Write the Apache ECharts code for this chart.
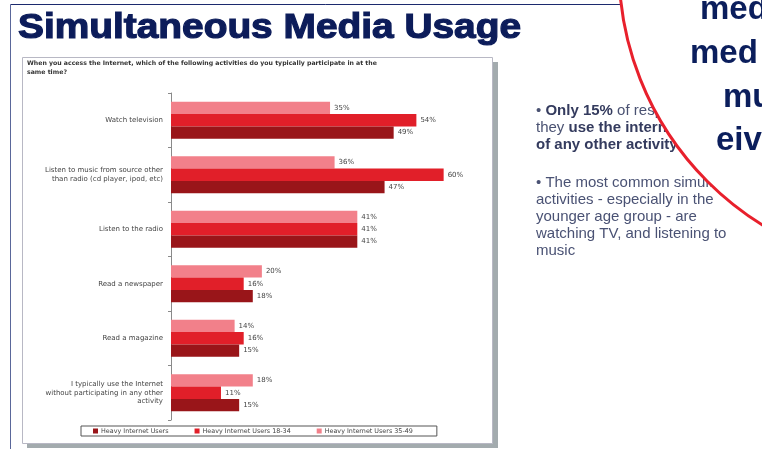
<!DOCTYPE html>
<html>
<head>
<meta charset="utf-8">
<script src="https://cdn.jsdelivr.net/npm/echarts@6/dist/echarts.min.js"></script>
<style>
html,body{margin:0;padding:0;background:#fff;}
#c{width:762px;height:449px;}
</style>
</head>
<body>
<div id="c"></div>
<script>
const categories = [
  'Watch television',
  'Listen to music from source other\nthan radio (cd player, ipod, etc)',
  'Listen to the radio',
  'Read a newspaper',
  'Read a magazine',
  'I typically use the Internet\nwithout participating in any other\nactivity'
];
const seriesNames = ['Heavy Internet Users', 'Heavy Internet Users 18-34', 'Heavy Internet Users 35-49'];
const heavyAll = [49, 47, 41, 18, 15, 15];
const heavy1834 = [54, 60, 41, 16, 16, 11];
const heavy3549 = [35, 36, 41, 20, 14, 18];

const chart = echarts.init(document.getElementById('c'), null, {renderer: 'canvas'});
const ARIAL = '"Liberation Sans", Arial, sans-serif';
const SMALL = '"DejaVu Sans", Verdana, sans-serif';
const lbl = {show: true, position: 'right', distance: 4, formatter: '{c}%', fontSize: 7, color: '#444', fontFamily: SMALL};

const option = {
  backgroundColor: '#ffffff',
  animation: false,
  textStyle: {fontFamily: SMALL},
  grid: {left: 171, top: 93, width: 309, height: 327, containLabel: false},
  xAxis: {type: 'value', min: 0, max: 68, show: false},
  yAxis: {
    type: 'category', data: categories, inverse: true,
    axisLine: {show: true, lineStyle: {color: '#8a8a8a', width: 1}},
    axisTick: {show: true, length: 3, lineStyle: {color: '#8a8a8a'}},
    axisLabel: {fontSize: 7, color: '#444', lineHeight: 8.8, margin: 8, fontFamily: SMALL, align: 'right'}
  },
  legend: {
    data: [seriesNames[0], seriesNames[1], seriesNames[2]],
    left: 81, top: 426, itemWidth: 5, itemHeight: 5, itemGap: 26,
    borderColor: '#555', borderWidth: 1, padding: [2, 24, 2, 12],
    textStyle: {fontSize: 6.4, color: '#444', fontFamily: SMALL, padding: [0, 0, 0, -2]},
    icon: 'rect'
  },
  series: [
    {name: seriesNames[2], type: 'bar', data: heavy3549, barWidth: 12.3, barGap: '0%', itemStyle: {color: '#f2808a'}, label: lbl},
    {name: seriesNames[1], type: 'bar', data: heavy1834, barWidth: 12.3, barGap: '0%', itemStyle: {color: '#e11f29'}, label: lbl},
    {name: seriesNames[0], type: 'bar', data: heavyAll, barWidth: 12.3, barGap: '0%', itemStyle: {color: '#991519'}, label: lbl}
  ],
  graphic: [
    // slide frame
    {type: 'line', z: -20, shape: {x1: 10.5, y1: 4.5, x2: 640, y2: 4.5}, style: {stroke: '#1c2a6e', lineWidth: 1}},
    {type: 'line', z: -20, shape: {x1: 10.5, y1: 4.5, x2: 10.5, y2: 449}, style: {stroke: '#5a679a', lineWidth: 1}},
    // title
    {type: 'text', z: 5, x: 18, y: 11, scaleX: 1.11, style: {text: 'Simultaneous Media Usage', fontSize: 35, fontWeight: 'bold', fontFamily: ARIAL, fill: '#0c1c5a', stroke: '#0c1c5a', lineWidth: 1.2}},
    // chart panel shadow + panel
    {type: 'rect', z: -15, shape: {x: 27, y: 62, width: 471, height: 386}, style: {fill: '#a3abae'}},
    {type: 'rect', z: -14, shape: {x: 22.5, y: 57.5, width: 470, height: 386}, style: {fill: '#ffffff', stroke: '#b8b8c4', lineWidth: 1}},
    // question
    {type: 'text', z: 5, x: 27, y: 59, style: {text: 'When you access the Internet, which of the following activities do you typically participate in at the\nsame time?', fontSize: 6.2, fontWeight: 'bold', fontFamily: SMALL, fill: '#333', lineHeight: 9}},
    // bullet text
    {type: 'text', z: 5, x: 536, y: 102.5, style: {
      text: '• {b|Only 15%} of respondents say\nthey {b|use the internet without}\n{b|of any other activity}',
      fontSize: 15, fontFamily: ARIAL, fill: '#4a5272', lineHeight: 17,
      rich: {b: {fontSize: 15, fontWeight: 'bold', fontFamily: ARIAL, fill: '#343b5e', lineHeight: 17}}
    }},
    {type: 'text', z: 5, x: 536, y: 174.5, style: {
      text: '• The most common simultaneous\nactivities - especially in the\nyounger age group - are\nwatching TV, and listening to\nmusic',
      fontSize: 15, fontFamily: ARIAL, fill: '#4a5274', lineHeight: 17
    }},
    // circle overlay
    {type: 'circle', z: 20, shape: {cx: 921, cy: -32, r: 302}, style: {fill: '#ffffff', stroke: '#e8202c', lineWidth: 3}},
    {type: 'text', z: 21, x: 700, y: -7, style: {text: 'med', fontSize: 33, fontWeight: 'bold', fontFamily: ARIAL, fill: '#0b1e5c'}},
    {type: 'text', z: 21, x: 690, y: 37, style: {text: 'med', fontSize: 33, fontWeight: 'bold', fontFamily: ARIAL, fill: '#0b1e5c'}},
    {type: 'text', z: 21, x: 723, y: 81, style: {text: 'mu', fontSize: 33, fontWeight: 'bold', fontFamily: ARIAL, fill: '#0b1e5c'}},
    {type: 'text', z: 21, x: 716, y: 124, style: {text: 'eiv', fontSize: 33, fontWeight: 'bold', fontFamily: ARIAL, fill: '#0b1e5c'}}
  ]
};
chart.setOption(option);
</script>
</body>
</html>
